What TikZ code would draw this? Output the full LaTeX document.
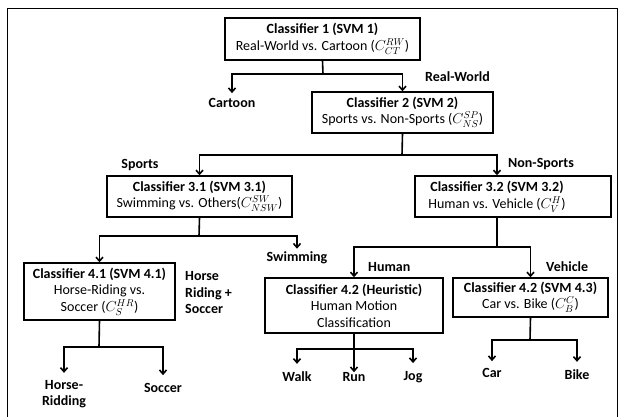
\documentclass[tikz,border=0pt]{standalone}
\usepackage{fontspec}
\setmainfont{Carlito}
\usepackage{amsmath}
\usetikzlibrary{arrows.meta}
\tikzset{
  clsbox/.style={draw, line width=1.4pt, align=center, inner sep=0pt, font=\fontsize{14}{16.5}\selectfont},
  conn/.style={line width=1.6pt},
  arr/.style={line width=1.6pt, -{Straight Barb[length=4pt,width=7pt,line width=1.6pt]}},
  leaf/.style={font=\fontsize{14}{16.5}\selectfont\bfseries, align=center, inner sep=0pt},
  branch/.style={font=\fontsize{14}{16.5}\selectfont\bfseries, align=left, inner sep=0pt, anchor=west}
}

\begin{document}
\begin{tikzpicture}[x=1pt,y=-1pt]
\useasboundingbox (0,0) rectangle (623,417);
% frame
\draw [line width=0.8pt] (7,417) -- (7,8) -- (617,8) -- (617,417);

% classifier boxes
\node [clsbox, minimum width=195pt, minimum height=42pt] (c1) at (322.5,39) {\textbf{Classifier 1 (SVM 1)}\\Real-World vs. Cartoon ($C_{CT}^{RW}$)};
\node [clsbox, minimum width=181pt, minimum height=41pt] (c2) at (402.5,112.5) {\textbf{Classifier 2 (SVM 2)}\\Sports vs. Non-Sports ($C_{NS}^{SP}$)};
\node [clsbox, minimum width=185pt, minimum height=41pt] (c31) at (199.5,196.5) {\textbf{Classifier 3.1 (SVM 3.1)}\\Swimming vs. Others($C_{NSW}^{SW}$)};
\node [clsbox, minimum width=196pt, minimum height=41pt] (c32) at (513,196.5) {\begin{tabular}{@{}c@{}}\textbf{Classifier 3.2 (SVM 3.2)}\\Human vs. Vehicle ($C_{V}^{H}$)\end{tabular}\hspace{32pt}};
\node [clsbox, minimum width=151pt, minimum height=57pt] (c41) at (99.5,291.5) {\textbf{Classifier 4.1 (SVM 4.1)}\\Horse-Riding vs.\\Soccer ($C_{S}^{HR}$)};
\node [clsbox, minimum width=178pt, minimum height=55pt] (c42) at (354,305.5) {\textbf{Classifier 4.2 (Heuristic)}\\Human Motion\\Classification};
\node [clsbox, minimum width=155pt, minimum height=39pt] (c43) at (530.5,297.5) {\textbf{Classifier 4.2 (SVM 4.3)}\\Car vs. Bike ($C_{B}^{C}$)};

% outcomes
\node [leaf] (cartoon) at (232,103) {Cartoon};
\node [leaf] (swimming) at (297,258) {Swimming};
\node [leaf] (horse) at (64,394) {Horse-\\Ridding};
\node [leaf] (soccer) at (163,388) {Soccer};
\node [leaf] (walk) at (297,377) {Walk};
\node [leaf] (run) at (354,377) {Run};
\node [leaf] (jog) at (413,377) {Jog};
\node [leaf] (car) at (492,373) {Car};
\node [leaf] (bike) at (577,375) {Bike};

% branch labels
\node [branch] (realworld) at (425,77) {Real-World};
\node [branch, anchor=center] (sports) at (140,165) {Sports};
\node [branch] (nonsports) at (508,164) {Non-Sports};
\node [branch] (hrsoccer) at (185,293) {Horse\\Riding +\\Soccer};
\node [branch] (human) at (368,267) {Human};
\node [branch] (vehicle) at (546,267) {Vehicle};

% junctions
\coordinate (j1) at (323,74);
\coordinate (j2) at (402,155);
\coordinate (j31) at (199,236);
\coordinate (j32) at (497,247);
\coordinate (j41) at (99,347);
\coordinate (j42) at (354,349);
\coordinate (j43) at (530,340);

% connectors
\draw [conn] (c1.south) -- (j1);
\draw [arr, shorten >=5pt] (j1) -| (cartoon);
\draw [arr] (j1) -| (c2);

\draw [conn] (c2.south) -- (j2);
\draw [arr] (j2) -| (c31);
\draw [arr] (j2) -| ([xshift=-16pt]c32.north);

\draw [conn] (c31.south) -- (j31);
\draw [arr] (j31) -| (c41);
\draw [arr, shorten >=3pt] (j31) -| (swimming);

\draw [conn] ([xshift=-16pt]c32.south) -- (j32);
\draw [arr] (j32) -| (c42);
\draw [arr] (j32) -| (c43);

\draw [conn] (c41.south) -- (j41);
\draw [arr, shorten >=7pt] (j41) -| (horse);
\draw [arr, shorten >=8pt] (j41) -| (soccer);

\draw [conn] (c42.south) -- (j42);
\draw [arr, shorten >=8pt] (j42) -| (walk);
\draw [arr, shorten >=8pt] (j42) -- ([yshift=-8pt]run.north);
\draw [arr, shorten >=8pt] (j42) -| (jog);

\draw [conn] (c43.south) -- (j43);
\draw [arr, shorten >=7pt] (j43) -| (car);
\draw [arr, shorten >=8pt] (j43) -| (bike);

\end{tikzpicture}
\end{document}
